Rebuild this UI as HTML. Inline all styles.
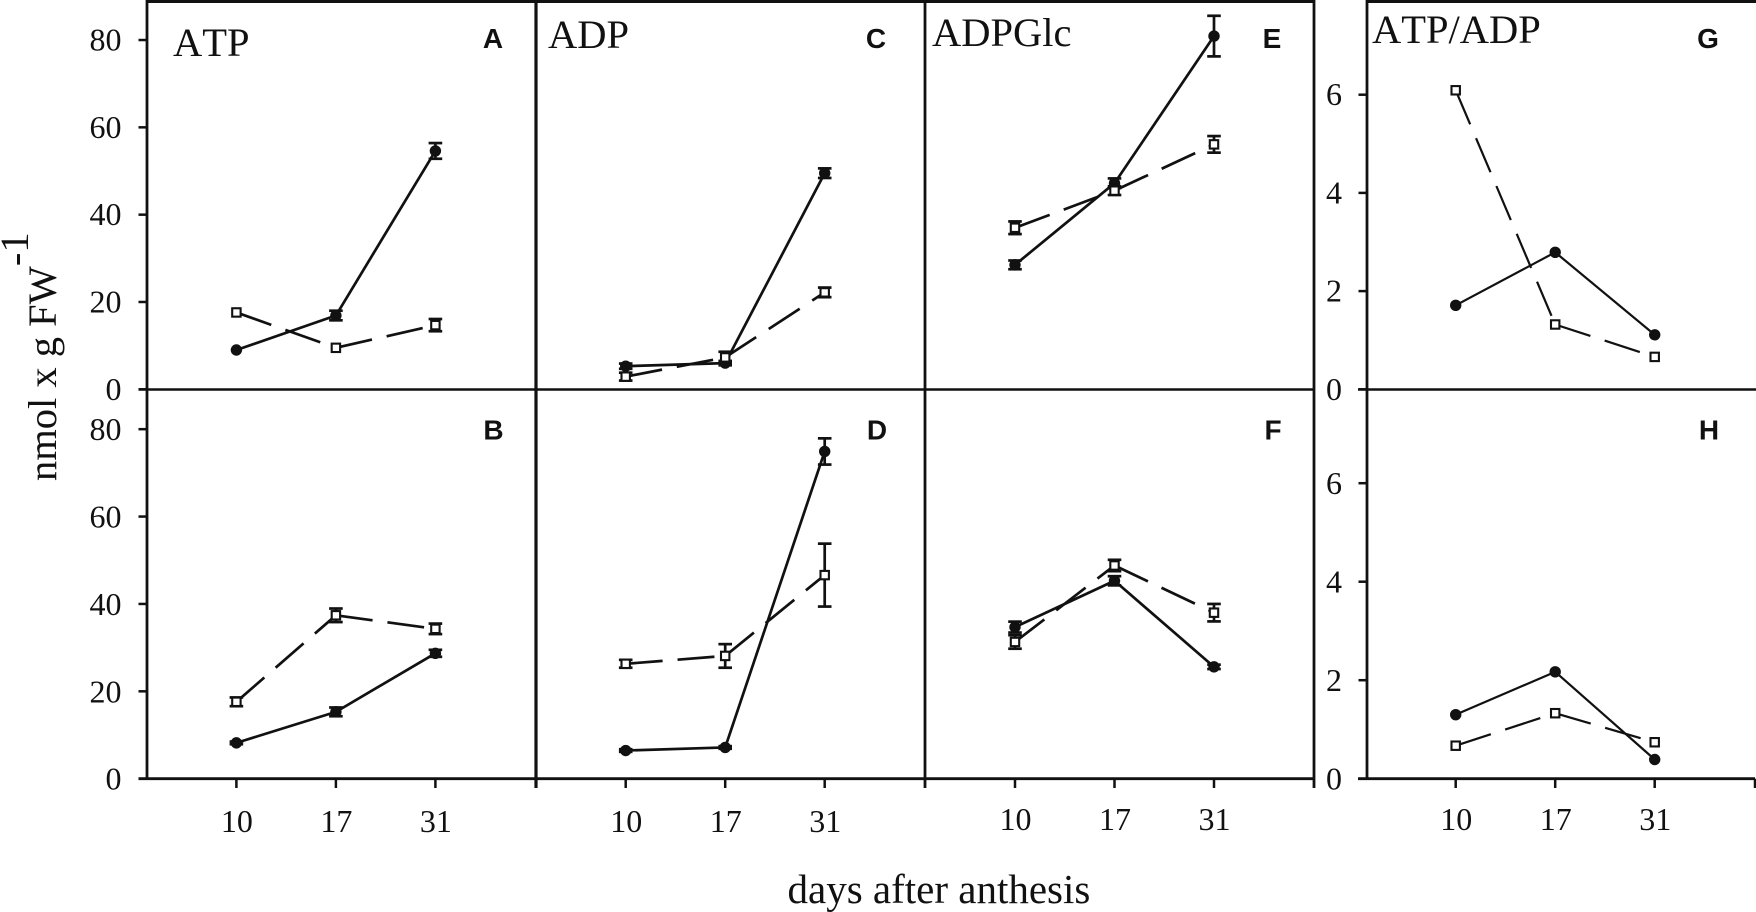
<!DOCTYPE html>
<html lang="en">
<head>
<meta charset="utf-8">
<title>Adenylate levels in developing seeds</title>
<style>
html,body{margin:0;padding:0;background:#fff;width:1756px;height:912px;overflow:hidden}
svg{display:block}
text{font-family:"Liberation Serif",serif;fill:#111;font-kerning:none}
.tick{font-size:32px}
.ptitle{font-size:40.5px}
.letter{font-family:"Liberation Sans",sans-serif;font-weight:700;font-size:28px;text-anchor:middle}
</style>
</head>
<body>
<svg id="chart" xmlns="http://www.w3.org/2000/svg" width="1756" height="912" viewBox="0 0 1756 912">
  <rect x="0" y="0" width="1756" height="912" fill="#fff"/>
  <g id="frame" stroke="#111" fill="none">
    <line x1="146" y1="1.5" x2="1315" y2="1.5" stroke-width="3"/>
    <line x1="1366" y1="1.5" x2="1756" y2="1.5" stroke-width="3"/>
    <line x1="138.5" y1="389.5" x2="1315" y2="389.5" stroke-width="2.6"/>
    <line x1="1358" y1="389.5" x2="1756" y2="389.5" stroke-width="2.6"/>
    <line x1="138.5" y1="778.7" x2="1315" y2="778.7" stroke-width="2.8"/>
    <line x1="1358" y1="778.7" x2="1755" y2="778.7" stroke-width="2.8"/>
    <line x1="147" y1="0" x2="147" y2="780" stroke-width="2.8"/>
    <line x1="536" y1="0" x2="536" y2="788" stroke-width="3.2"/>
    <line x1="925" y1="0" x2="925" y2="788" stroke-width="2.8"/>
    <line x1="1314" y1="0" x2="1314" y2="788" stroke-width="2.8"/>
    <line x1="1367" y1="0" x2="1367" y2="780" stroke-width="2.8"/>
    <line x1="1755" y1="778.7" x2="1755" y2="788" stroke-width="2.5"/>
  </g>
  <g id="marks"></g>
  <g id="labels"></g>
  <text class="ptitle" x="173" y="56">ATP</text>
  <text class="ptitle" x="548" y="48">ADP</text>
  <text class="ptitle" x="932" y="46" font-size="41">ADPGlc</text>
  <text class="ptitle" x="1372" y="43">ATP/ADP</text>
  <text class="letter" x="493" y="48">A</text>
  <text class="letter" x="493.5" y="439.5">B</text>
  <text class="letter" x="876" y="48">C</text>
  <text class="letter" x="877" y="439.5">D</text>
  <text class="letter" x="1272" y="48">E</text>
  <text class="letter" x="1273" y="439.5">F</text>
  <text class="letter" x="1708" y="48">G</text>
  <text class="letter" x="1709" y="439.5">H</text>
  <text x="787.5" y="903" font-size="41">days after anthesis</text>
  <text transform="translate(56,481) rotate(-90)" font-size="40.5">nmol x g FW<tspan dy="-28">-1</tspan></text>
</svg>
<script>
const categories = ['10', '17', '31'];
const amountTicks = [0, 20, 40, 60, 80];
const ratioTicks = [0, 2, 4, 6];

const panelAFilled = [9.0, 16.9, 54.6];
const panelAFilledErr = [0, 1.1, 1.8];
const panelAOpen = [17.6, 9.5, 14.7];
const panelAOpenErr = [0, 0, 1.4];

const panelBFilled = [8.2, 15.3, 28.7];
const panelBFilledErr = [0.3, 1.0, 0.8];
const panelBOpen = [17.6, 37.4, 34.3];
const panelBOpenErr = [1.0, 1.55, 1.2];

const panelCFilled = [5.3, 6.0, 49.5];
const panelCFilledErr = [0.6, 0.5, 1.1];
const panelCOpen = [2.9, 7.3, 22.2];
const panelCOpenErr = [0.9, 1.3, 1.1];

const panelDFilled = [6.45, 7.15, 74.9];
const panelDFilledErr = [0.3, 0.3, 3.0];
const panelDOpen = [26.3, 28.1, 46.6];
const panelDOpenErr = [0.9, 2.7, 7.2];

const panelEFilled = [28.5, 47.2, 80.9];
const panelEFilledErr = [1.0, 1.1, 4.65];
const panelEOpen = [37.0, 45.5, 56.1];
const panelEOpenErr = [1.45, 1.0, 1.9];

const panelFFilled = [34.7, 45.3, 25.6];
const panelFFilledErr = [1.25, 1.05, 0.5];
const panelFOpen = [31.3, 48.8, 38.0];
const panelFOpenErr = [1.55, 1.3, 2.0];

const panelGFilled = [1.71, 2.79, 1.11];
const panelGOpen = [6.09, 1.32, 0.66];

const panelHFilled = [1.30, 2.17, 0.39];
const panelHOpen = [0.67, 1.33, 0.74];

const NS = 'http://www.w3.org/2000/svg';
const marks = document.getElementById('marks');
const labels = document.getElementById('labels');

function make(parent, tag, name, attrs) {
  const node = document.createElementNS(NS, tag);
  
  
  for (const key in attrs) {
    node.setAttribute(key, attrs[key]);
  }
  parent.appendChild(node);
  return node;
}

function xAxis(firstX) {
  return function (i) { return firstX + 99.5 * i; };
}
function yAxis(zeroY, perUnit) {
  return function (v) { return zeroY - perUnit * v; };
}

const topAmount = yAxis(389.3, 4.366);
const bottomAmount = yAxis(778.7, 4.369);
const topRatio = yAxis(389.3, 49.1);
const bottomRatio = yAxis(778.7, 49.25);

function drawPanel(id, x, y, filled, filledErr, open, openErr, lineWidth) {
  const group = make(marks, 'g', 'panel-' + id, {});
  const drawSeries = function (kind, values, errs) {
    const series = make(group, 'g', 'series-' + kind + '-' + id, {});
    for (let i = 0; i + 1 < values.length; i++) {
      const seg = {
        x1: x(i), y1: y(values[i]), x2: x(i + 1), y2: y(values[i + 1]),
        stroke: '#111', 'stroke-width': lineWidth
      };
      if (kind === 'open') {
        seg['stroke-dasharray'] = '37 15';
      }
      make(series, 'line', 'line-' + kind + '-' + id + '-' + i, seg);
    }
    values.forEach(function (v, i) {
      if (errs && errs[i] > 0) {
        const hi = y(v + errs[i]);
        const lo = y(v - errs[i]);
        const err = { stroke: '#111', 'stroke-width': 2.7 };
        make(series, 'line', 'error-bar-' + kind + '-' + id + '-' + i, Object.assign({ x1: x(i), x2: x(i), y1: hi, y2: lo }, err));
        make(series, 'line', 'error-cap-top-' + kind + '-' + id + '-' + i, Object.assign({ x1: x(i) - 6.8, x2: x(i) + 6.8, y1: hi, y2: hi }, err));
        make(series, 'line', 'error-cap-bottom-' + kind + '-' + id + '-' + i, Object.assign({ x1: x(i) - 6.8, x2: x(i) + 6.8, y1: lo, y2: lo }, err));
      }
      if (kind === 'filled') {
        make(series, 'circle', 'point-filled-' + id + '-' + i, { cx: x(i), cy: y(v), r: 5.7, fill: '#111' });
      } else {
        make(series, 'rect', 'point-open-' + id + '-' + i, {
          x: x(i) - 4.2, y: y(v) - 4.2, width: 8.4, height: 8.4,
          fill: '#fff', stroke: '#111', 'stroke-width': 2.1
        });
      }
    });
  };
  drawSeries('filled', filled, filledErr);
  drawSeries('open', open, openErr);
}

function drawYTicks(id, ticks, y, axisX, labelX, labelDy) {
  ticks.forEach(function (t) {
    make(marks, 'line', 'y-tick-' + id + '-' + t, {
      x1: axisX - 8.5, x2: axisX, y1: y(t), y2: y(t), stroke: '#111', 'stroke-width': 2.5
    });
    const label = make(labels, 'text', 'y-tick-label-' + id + '-' + t, {
      x: labelX, y: y(t) + labelDy, 'text-anchor': 'end', class: 'tick'
    });
    label.textContent = String(t);
  });
}

function drawXTicks(id, x, baseline) {
  categories.forEach(function (c, i) {
    make(marks, 'line', 'x-tick-' + id + '-' + c, {
      x1: x(i), x2: x(i), y1: 778.7, y2: 788, stroke: '#111', 'stroke-width': 2.5
    });
    const label = make(labels, 'text', 'x-tick-label-' + id + '-' + c, {
      x: x(i) + 0.5, y: baseline, 'text-anchor': 'middle', class: 'tick'
    });
    label.textContent = c;
  });
}

const xA = xAxis(236.4);
const xC = xAxis(625.7);
const xE = xAxis(1015);
const xG = xAxis(1455.7);

drawYTicks('top', amountTicks, topAmount, 147, 121.5, 10.5);
drawYTicks('bottom', amountTicks, bottomAmount, 147, 121.5, 11);
drawYTicks('ratio-top', ratioTicks, topRatio, 1367, 1342, 10.5);
drawYTicks('ratio-bottom', ratioTicks, bottomRatio, 1367, 1342, 11);

drawXTicks('atp', xA, 832);
drawXTicks('adp', xC, 832);
drawXTicks('adpglc', xE, 830);
drawXTicks('ratio', xG, 830);

drawPanel('a', xA, topAmount, panelAFilled, panelAFilledErr, panelAOpen, panelAOpenErr, 2.7);
drawPanel('b', xA, bottomAmount, panelBFilled, panelBFilledErr, panelBOpen, panelBOpenErr, 2.7);
drawPanel('c', xC, topAmount, panelCFilled, panelCFilledErr, panelCOpen, panelCOpenErr, 2.7);
drawPanel('d', xC, bottomAmount, panelDFilled, panelDFilledErr, panelDOpen, panelDOpenErr, 2.7);
drawPanel('e', xE, topAmount, panelEFilled, panelEFilledErr, panelEOpen, panelEOpenErr, 2.7);
drawPanel('f', xE, bottomAmount, panelFFilled, panelFFilledErr, panelFOpen, panelFOpenErr, 2.7);
drawPanel('g', xG, topRatio, panelGFilled, null, panelGOpen, null, 2.2);
drawPanel('h', xG, bottomRatio, panelHFilled, null, panelHOpen, null, 2.2);
</script>
</body>
</html>
